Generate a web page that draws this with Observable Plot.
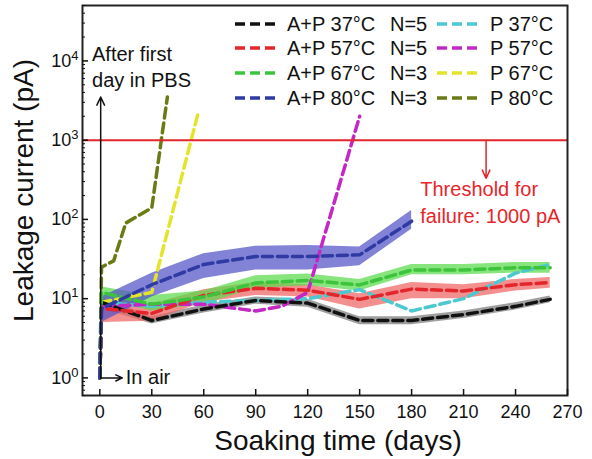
<!DOCTYPE html>
<html><head><meta charset="utf-8">
<script src="https://cdn.jsdelivr.net/npm/d3@7"></script>
<script src="https://cdn.jsdelivr.net/npm/@observablehq/plot@0.6"></script>
<style>body{margin:0;background:#fff} #chart{width:592px;height:459px}</style>
</head><body><div id="chart"></div><script>
// ---------- data ----------
const apDays   = [1, 30, 60, 90, 120, 150, 180, 210, 240, 260];
const ap37     = [9, 5.3, 7.4, 9.5, 8.8, 5.3, 5.3, 6.3, 8.0, 9.8];
const ap37Lo   = [7.5, 4.8, 6.6, 8.5, 7.8, 4.7, 4.7, 5.6, 7.2, 8.9];
const ap37Hi   = [10.5, 5.9, 8.3, 10.5, 9.8, 5.9, 5.9, 7.0, 8.9, 10.8];
const ap57     = [7.5, 6.5, 11, 13.5, 12.8, 9.8, 13.2, 12.5, 15, 16];
const ap57Lo   = [5, 5.2, 9, 11, 10.5, 7.4, 10, 10, 12.5, 13.5];
const ap57Hi   = [10, 8.5, 13, 16, 15, 11.5, 16, 15, 17.5, 18.5];
const ap67     = [12, 8.5, 10.5, 15.8, 17, 14.9, 23, 23, 24.5, 24.5];
const ap67Lo   = [10, 7, 8.5, 13.5, 14.5, 12.5, 20, 20, 21, 21];
const ap67Hi   = [14, 11, 12.5, 19.5, 20.5, 17.5, 27, 27, 28.5, 28.5];
const ap80Days = [1, 30, 60, 90, 120, 150, 180];
const ap80     = [7.5, 15, 27, 34, 34, 35.7, 95];
const ap80Lo   = [5, 10.5, 18, 23, 23, 26, 75];
const ap80Hi   = [10.5, 21, 37, 46, 47, 45, 130];

const p37Days = [0, 1, 30, 60, 90, 120, 150, 180, 210, 240, 260];
const p37     = [1, 9, 8, 9, 9.5, 10, 13, 7, 10, 21, 27];
const p57Days = [0, 1, 30, 60, 90, 105, 120, 150];
const p57     = [1, 8, 8.5, 8.5, 7, 8, 12, 2000];
const p67Days = [0, 1, 30, 57];
const p67     = [1, 9, 12, 2300];
const p80Days = [0, 1, 8, 15, 30, 39];
const p80     = [1, 25, 30, 90, 140, 3500];

const inAir = 1;          // all devices start at 1 pA in air (day 0)
const threshold = 1000;   // failure threshold, pA

const xTicks = [0, 30, 60, 90, 120, 150, 180, 210, 240, 270];
const yMajor = [1, 10, 100, 1000, 10000];
const yExp = ["0", "1", "2", "3", "4"];
const minorMult = [2, 3, 4, 5, 6, 7, 8, 9];

const legendLeft  = ["A+P 37\u00b0C", "A+P 57\u00b0C", "A+P 67\u00b0C", "A+P 80\u00b0C"];
const legendN     = ["N=5", "N=5", "N=3", "N=3"];
const legendRight = ["P 37\u00b0C", "P 57\u00b0C", "P 67\u00b0C", "P 80\u00b0C"];

// annotation anchors (data units)
const pbsArrow  = [{x1: 0.5, y1: 1, x2: 0.5, y2: 3500}];
const airArrow  = [{x1: 0.5, y1: 1, x2: 13, y2: 1}];
const thrArrow  = [{x1: 223, y1: 1000, x2: 223, y2: 330}];
const notes = [
  {x: -4.5, y: 12000, t: "After first", c: "#111"},
  {x: -4.5, y: 5600,  t: "day in PBS", c: "#111"},
  {x: 15,   y: 1,     t: "In air", c: "#111"},
  {x: 185,  y: 240,   t: "Threshold for", c: "#e8252a"},
  {x: 185,  y: 108,   t: "failure: 1000 pA", c: "#e8252a"}
];

// ---------- styling ----------
const col = {k: "#111111", r: "#e3262b", g: "#3cc43c", b: "#2f3aa3",
             c: "#4cc8cf", m: "#c428c4", y: "#e4e42c", o: "#6b7a12"};
const bandCol = {k: "#7a7a7a", r: "#f06464", g: "#5ada4a", b: "#5252c6"};
const font = "'Liberation Sans', Arial, Helvetica, sans-serif";
const dash = "10,5";

const apSeries = [
  {days: apDays, v: ap37, lo: ap37Lo, hi: ap37Hi, c: col.k, band: bandCol.k},
  {days: apDays, v: ap57, lo: ap57Lo, hi: ap57Hi, c: col.r, band: bandCol.r},
  {days: apDays, v: ap67, lo: ap67Lo, hi: ap67Hi, c: col.g, band: bandCol.g},
  {days: ap80Days, v: ap80, lo: ap80Lo, hi: ap80Hi, c: col.b, band: bandCol.b}
];
const pSeries = [
  {days: p37Days, v: p37, c: col.c},
  {days: p57Days, v: p57, c: col.m},
  {days: p67Days, v: p67, c: col.y},
  {days: p80Days, v: p80, c: col.o}
];

const yMinor = [];
[0.1, 1, 10, 100, 1000, 10000].forEach(dec => minorMult.forEach(m => {
  const v = dec * m; if (v >= 0.6 && v <= 50000) yMinor.push(v);
}));

const marks = [];
apSeries.forEach(s => marks.push(Plot.areaY(
  s.days.map((d, i) => ({x: d, lo: s.lo[i], hi: s.hi[i]})),
  {x: "x", y1: "lo", y2: "hi", fill: s.band, fillOpacity: 0.72})));
pSeries.forEach(s => marks.push(Plot.line(
  s.days.map((d, i) => ({x: d, y: s.v[i]})),
  {x: "x", y: "y", stroke: s.c, strokeWidth: 3.5, strokeDasharray: dash})));
apSeries.forEach(s => marks.push(Plot.line(
  [{x: 0, y: inAir}, ...s.days.map((d, i) => ({x: d, y: s.v[i]}))],
  {x: "x", y: "y", stroke: s.c, strokeWidth: 3.5, strokeDasharray: dash})));
marks.push(
  Plot.ruleY([threshold], {stroke: col.r, strokeWidth: 2}),
  Plot.arrow(pbsArrow, {x1: "x1", y1: "y1", x2: "x2", y2: "y2", stroke: "#111", strokeWidth: 1.5, headLength: 9, headAngle: 50}),
  Plot.arrow(airArrow, {x1: "x1", y1: "y1", x2: "x2", y2: "y2", stroke: "#111", strokeWidth: 1.5, headLength: 9, headAngle: 50}),
  Plot.arrow(thrArrow, {x1: "x1", y1: "y1", x2: "x2", y2: "y2", stroke: col.r, strokeWidth: 1.5, headLength: 9, headAngle: 50}),
  Plot.text(notes, {x: "x", y: "y", text: "t", fill: "c", textAnchor: "start", fontSize: 20, fontFamily: font}),
  Plot.frame({stroke: "#222", strokeWidth: 2}),
  Plot.axisX({ticks: xTicks, tickSize: 0, tickPadding: 10, fontSize: 18, label: null}),
  Plot.axisX({ticks: xTicks, tickSize: -6, tickFormat: () => "", label: null, strokeWidth: 1.5}),
  Plot.axisY({ticks: yMajor, tickSize: 0, tickPadding: 4, fontSize: 18, label: null,
              tickFormat: d => "10^" + yExp[yMajor.indexOf(d)]}),
  Plot.axisY({ticks: yMajor, tickSize: -6, tickFormat: () => "", label: null, strokeWidth: 1.5}),
  Plot.axisY({ticks: yMinor, tickSize: -3, tickFormat: () => "", label: null}),
  Plot.text(["Soaking time (days)"], {frameAnchor: "bottom", dy: 46, dx: 13, fontSize: 28, fontFamily: font, lineAnchor: "middle", textAnchor: "middle"}),
  Plot.text(["Leakage current (pA)"], {frameAnchor: "left", dx: -58, dy: -10, rotate: -90, fontSize: 28, fontFamily: font, lineAnchor: "middle", textAnchor: "middle"})
);

const svg = Plot.plot({
  width: 592, height: 459,
  marginLeft: 82, marginRight: 25, marginTop: 5, marginBottom: 64,
  x: {domain: [-10, 270]},
  y: {type: "log", domain: [0.6, 50000]},
  style: {fontFamily: font, color: "#111", background: "#fff"},
  marks
});

// superscript exponents on the y tick labels
d3.select(svg).selectAll("text").each(function() {
  const t = this.textContent;
  if (/^10\^\d$/.test(t)) {
    const e = t.slice(3);
    const s = d3.select(this);
    s.text("10");
    s.append("tspan").attr("dy", "-0.55em").attr("font-size", "13px").text(e);
  }
});

// ---------- legend ----------
const lg = d3.select(svg).append("g").attr("font-family", font).attr("font-size", 20)
  .attr("fill", "#111").attr("text-anchor", "start");
const rowsY = [24, 48, 73, 98];
rowsY.forEach((yy, i) => {
  lg.append("line").attr("x1", 235).attr("x2", 278).attr("y1", yy).attr("y2", yy)
    .attr("stroke", apSeries[i].c).attr("stroke-width", 3.5).attr("stroke-dasharray", dash);
  lg.append("text").attr("x", 287).attr("y", yy).attr("dy", "0.35em").text(legendLeft[i]);
  lg.append("text").attr("x", 390).attr("y", yy).attr("dy", "0.35em").text(legendN[i]);
  lg.append("line").attr("x1", 437).attr("x2", 481).attr("y1", yy).attr("y2", yy)
    .attr("stroke", pSeries[i].c).attr("stroke-width", 3.5).attr("stroke-dasharray", dash);
  lg.append("text").attr("x", 490).attr("y", yy).attr("dy", "0.35em").text(legendRight[i]);
});

document.getElementById("chart").appendChild(svg);
</script></body></html>
